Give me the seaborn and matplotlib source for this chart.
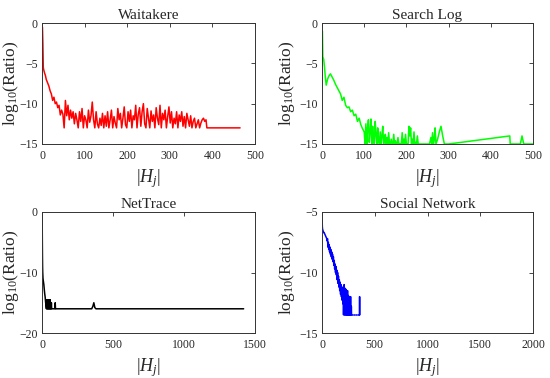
import numpy as np
import pandas as pd
import matplotlib
matplotlib.use("Agg")
import matplotlib.pyplot as plt
import seaborn as sns

# ---------------- data ----------------
# Waitakere
wai_head_x = [1, 2, 3, 4, 6, 8, 10, 13, 16, 19, 22, 25, 28, 31, 34, 37, 40, 43, 46, 49]
wai_head_y = [-0.5, -2.5, -5.5, -5.8, -6.2, -6.5, -7.0, -7.4, -7.8, -8.4, -8.8, -9.6,
              -9.2, -10.0, -9.8, -10.5, -10.2, -11.4, -10.8, -11.3]
wai_noise_start, wai_noise_step = 52, 3
wai_noise_y = [-13, -9.6, -11.5, -10.2, -12, -10.8, -11.8, -11, -12.5, -11.2, -12,
               -13, -11, -12.2, -10.6, -13, -11.5, -12, -13, -10.8, -12.3,
               -11.5, -9.8, -12, -13, -11, -12.5, -13, -11.8, -12.7, -11.2,
               -13, -11.5, -12.8, -11, -13, -12, -10.8, -13, -11.6, -12.4,
               -13, -10.6, -12, -11.2, -13, -11.8, -10.4, -12.6, -13, -11,
               -12.2, -10.8, -13, -11.5, -12, -10.2, -13, -11.3, -10.5, -12.8,
               -11, -10, -12.5, -13, -10.6, -11.8, -13, -10.9, -12.2, -11.4,
               -13, -10.5, -11.8, -12.6, -10.2, -13, -11.2, -12, -10.8, -13,
               -11.6, -10.4, -12.4, -11, -13, -11.8, -12.5, -11, -13, -11.4,
               -12.2, -11, -12.8, -11.6, -13, -11.2, -12, -12.8, -11.5, -13,
               -12.2, -11.8, -13, -12.5, -12, -13, -12.4, -12, -11.8, -12.2,
               -12]
wai_tail_x = [387, 465]
wai_tail_y = [-13, -13]

# Search Log
sl_head_x = [1, 2, 4, 6, 8, 10, 13, 16, 20, 24, 28, 32, 36, 40, 44, 48, 52, 56, 60,
             64, 68, 72, 76, 80, 84, 88, 92, 96, 100]
sl_head_y = [-1, -4.2, -4.5, -5.5, -6.8, -7.7, -7.0, -6.6, -6.3, -6.7, -7.1, -7.6, -8,
             -8.4, -8.8, -9.6, -9.2, -10.2, -10.5, -10.4, -11, -10.8, -11.5, -11.3,
             -12.2, -11.8, -12.6, -13.1, -13.5]
sl_noise_start, sl_noise_step = 102, 2
sl_noise_y = [-15, -12.5, -15, -13, -12, -14.8, -13.5, -11.9, -15, -12.8, -14.2, -15,
              -12.2, -13.8, -15, -13, -14.5, -15, -13.5, -15, -14, -12.8, -15, -14.6,
              -13.8, -15, -14.2, -15, -13.6, -15,
              -15, -14.4, -15, -15, -13.8, -15, -14.6, -15, -15, -14.2, -15, -15, -15,
              -15, -13.6, -15, -14.4, -15, -13.8, -15, -15, -15, -12.8, -14, -13, -15,
              -14.4, -15, -13.5, -15, -14.8, -15, -14, -15, -15]
sl_tail_x = [255, 258, 260, 262, 264, 266, 268, 270, 274, 278, 282, 286, 290, 295, 300,
             445, 446, 470, 474, 478, 500]
sl_tail_y = [-15, -14.2, -15, -13.6, -15, -14.5, -13, -15, -14.4, -13.5, -12.8, -14,
             -15, -15, -15, -14, -15, -15, -14, -15, -15]

# NetTrace
nt_x = [1, 2, 3, 4, 5, 7, 10, 13, 16, 19, 22, 25, 28, 31, 34, 36, 38, 40, 42, 44, 46,
        48, 50, 52, 54, 56, 58, 60, 62, 64, 66, 68, 70, 75, 80, 90, 93, 95, 97, 100,
        350, 358, 365, 372, 380, 1420]
nt_y = [0, -4, -7, -9, -10, -11, -11.5, -12, -12.8, -13.5, -14, -14.8, -15.5, -16,
        -14.5, -16, -14.5, -16, -14.5, -16, -14.5, -16, -14.5, -16, -14.5, -16, -14.5,
        -16, -15, -16, -15, -16, -16, -16, -16, -16, -15, -16, -16, -16, -16, -15.6,
        -15, -15.8, -16, -16]

# Social Network
sn_head_x = [1, 3, 5, 8, 12, 16, 20, 25, 30, 35, 40, 45, 50]
sn_head_y = [-5.5, -6.2, -6.4, -6.5, -6.6, -6.7, -6.7, -6.8, -6.9, -7.0, -7.1, -7.2, -7.4]
sn_band_start, sn_band_step = 52, 4
sn_band_y = [-7.2, -7.9, -7.5, -8.1, -7.7, -8.3, -7.9, -8.5, -8.1, -8.7,
             -8.3, -8.9, -8.5, -9.1, -8.7, -9.4, -9.0, -9.7, -9.3, -10.0,
             -9.5, -10.2, -9.8, -10.6, -10.0, -10.9, -10.3, -11.2, -10.6, -11.5,
             -10.8, -11.8, -11.0, -12.0, -11.2, -12.3, -11.4, -12.6]
sn_noise_start, sn_noise_step = 202, 2
sn_noise_y = [-11.2, -13.5, -11.5, -13.2, -11, -13.5, -11.8, -13.5, -11.3, -13, -12,
              -13.5, -11.6, -13.5, -11.4, -13.5, -12.2, -13.5, -11.8, -13.5, -11.5,
              -13.5, -12.4, -13.5, -11.9, -13.5, -12, -13.5, -12.5, -13.5, -12, -13.5,
              -12.6, -13.5, -12, -12, -13.5, -13.5, -12.8, -13.5, -13.5]
sn_dash_x = [[286, 296], [303, 313], [320, 330], [337, 347], [352, 355, 356, 357, 358]]
sn_dash_y = [[-13.5, -13.5], [-13.5, -13.5], [-13.5, -13.5], [-13.5, -13.5],
             [-13.5, -13.5, -12, -12, -13.5]]

# ---------------- build frames ----------------
def seg_frame(xs, ys, unit):
    return pd.DataFrame({"x": xs, "y": ys, "u": unit})

wai = seg_frame(wai_head_x + list(wai_noise_start + wai_noise_step * np.arange(len(wai_noise_y)))
                + wai_tail_x, wai_head_y + wai_noise_y + wai_tail_y, 0)
sl = seg_frame(sl_head_x + list(sl_noise_start + sl_noise_step * np.arange(len(sl_noise_y)))
               + sl_tail_x, sl_head_y + sl_noise_y + sl_tail_y, 0)
nt = seg_frame(nt_x, nt_y, 0)
sn_main_x = (sn_head_x + list(sn_band_start + sn_band_step * np.arange(len(sn_band_y)))
             + list(sn_noise_start + sn_noise_step * np.arange(len(sn_noise_y))))
sn_main_y = sn_head_y + sn_band_y + sn_noise_y
sn = pd.concat([seg_frame(sn_main_x, sn_main_y, 0)] +
               [seg_frame(xs, ys, i + 1) for i, (xs, ys) in enumerate(zip(sn_dash_x, sn_dash_y))])

# ---------------- style ----------------
sns.set_style("white")
plt.rcParams["font.family"] = ["Liberation Serif", "DejaVu Serif"]
plt.rcParams["mathtext.fontset"] = "custom"
plt.rcParams["mathtext.rm"] = "Liberation Serif"
plt.rcParams["mathtext.it"] = "Liberation Serif:italic"

fig = plt.figure(figsize=(5.5, 3.78), dpi=100)
W, H = 550, 378
boxes = [(42, 23, 255, 144), (322, 23, 533, 144), (42, 212, 255, 333), (322, 212, 533, 333)]
label_x = [-0.100, -0.118, -0.100, -0.118]
axes = [fig.add_axes([l / W, 1 - b / H, (r - l) / W, (b - t) / H]) for (l, t, r, b) in boxes]

panels = [
    (wai, "#ff0000", "Waitakere", (0, 500), list(range(0, 501, 100)), (-15, 0), [-15, -10, -5, 0]),
    (sl, "#00ff00", "Search Log", (0, 500), list(range(0, 501, 100)), (-15, 0), [-15, -10, -5, 0]),
    (nt, "#000000", "NetTrace", (0, 1500), [0, 500, 1000, 1500], (-20, 0), [-20, -10, 0]),
    (sn, "#0000ff", "Social Network", (0, 2000), [0, 500, 1000, 1500, 2000], (-15, -5), [-15, -10, -5]),
]

for ax, lx, (df, col, title, xl, xt, yl, yt) in zip(axes, label_x, panels):
    sns.lineplot(data=df, x="x", y="y", units="u", estimator=None, sort=False,
                 color=col, lw=1.1, ax=ax, legend=False)
    ax.set_xlim(*xl)
    ax.set_ylim(*yl)
    ax.set_xticks(xt)
    ax.set_yticks(yt)
    ax.set_title(title, fontsize=11, pad=3)
    ax.set_xlabel("$|H_j|$", fontsize=13, labelpad=4)
    ax.set_ylabel("log$_{10}$(Ratio)", fontsize=12.5)
    ax.yaxis.set_label_coords(lx, 0.5)
    ax.tick_params(direction="in", top=True, right=True, length=3, width=0.6,
                   labelsize=8.5, colors="0.15")
    ax.tick_params(axis="x", pad=4)
    ax.tick_params(axis="y", pad=3)
    for s in ax.spines.values():
        s.set_visible(True)
        s.set_linewidth(0.7)
        s.set_color("0.2")

fig.savefig("out.png", dpi=100)
